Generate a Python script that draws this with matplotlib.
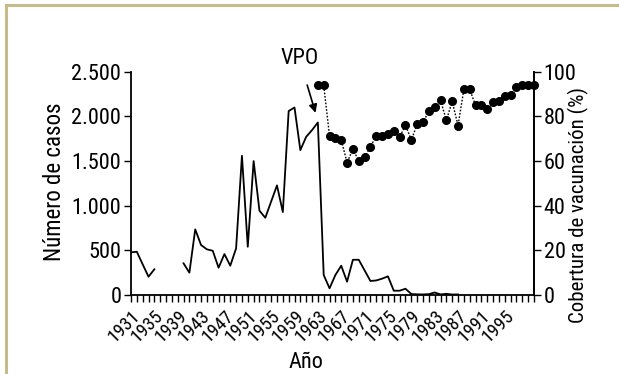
import os
import numpy as np
import matplotlib
matplotlib.use("Agg")
import matplotlib.pyplot as plt
from matplotlib import font_manager as fm
from matplotlib.lines import Line2D

# locate a narrow / condensed regular sans font file
prefs = ['LiberationSansNarrow-Regular', 'RobotoCondensed-Regular', 'DejaVuSansCondensed.',
         'NotoSans-Condensed.', 'NotoSans-CondensedRegular', 'OpenSans_Condensed-Regular',
         'OpenSansCondensed-Regular']
font_path = None
files = [f.fname for f in fm.fontManager.ttflist]
for p in prefs:
    for fn in files:
        if p in os.path.basename(fn):
            font_path = fn
            break
    if font_path:
        break
if font_path is None:
    for fn in files:
        b = os.path.basename(fn)
        if ('Condensed' in b or 'Narrow' in b) and not any(k in b for k in ['Bold', 'Italic', 'Oblique', 'Light', 'Thin', 'Medium', 'Black', 'Semi', 'Extra']):
            font_path = fn
            break

def FP(size):
    if font_path:
        return fm.FontProperties(fname=font_path, size=size)
    return fm.FontProperties(family=['Roboto', 'DejaVu Sans'], size=size)

years_cases = list(range(1931, 1988))
cases = [475, 482, 341, 202, 285, np.nan, np.nan, np.nan, np.nan,
         352, 247, 733, 557, 509, 493, 303, 456, 325, 520,
         1558, 538, 1499, 942, 863, 1045, 1226, 927, 2060, 2100,
         1622, 1771, 1846, 1932, 221, 72, 221, 325, 146, 392,
         392, 273, 154, 160, 180, 206, 45, 45, 67, 8,
         4, 3, 6, 25, 3, 10, 2, 3]

years_cov = list(range(1963, 2001))
coverage = [94.0, 94.0, 71.2, 70.4, 69.4, 59.3, 65.3, 60.1, 61.6, 66.4,
            71.2, 71.2, 72.2, 73.5, 70.6, 76.1, 69.4, 76.4, 77.3, 82.4,
            84.3, 87.3, 78.2, 86.7, 75.9, 92.1, 92.1, 84.9, 85.1, 83.1,
            86.4, 86.8, 89.2, 89.5, 93.0, 94.0, 94.0, 94.0]

label_years = list(range(1931, 1999, 4))
left_ticks = [0, 500, 1000, 1500, 2000, 2500]
left_ticklabels = ['0', '500', '1.000', '1.500', '2.000', '2.500']
right_ticks = [0, 20, 40, 60, 80, 100]

fig = plt.figure(figsize=(6.19, 3.74), dpi=100)
ax = fig.add_axes([0.2116, 0.212, 0.651, 0.596])

# decorative frame (top and left)
fig.add_artist(Line2D([0.010, 1.0], [0.986, 0.986], color='#c8bb8a', lw=2.2, transform=fig.transFigure))
fig.add_artist(Line2D([0.010, 0.010], [0.0, 0.986], color='#c8bb8a', lw=2.2, transform=fig.transFigure))

ax.plot(years_cases, cases, color='black', lw=1.3, zorder=3)
ax.set_xlim(1931, 2000)
ax.set_ylim(0, 2500)
ax.set_yticks(left_ticks)
ax.set_yticklabels(left_ticklabels, fontproperties=FP(16))
ax.set_xticks(label_years)
ax.set_xticklabels([str(y) for y in label_years], rotation=45, ha='right',
                   rotation_mode='anchor', fontproperties=FP(13.5))
ax.set_xticks(list(range(1931, 2001)), minor=True)
ax.tick_params(axis='x', which='both', length=5, width=1, direction='out', pad=4)
ax.tick_params(axis='y', length=5, width=1, pad=2)
ax.spines['top'].set_visible(False)
for s in ['left', 'bottom', 'right']:
    ax.spines[s].set_linewidth(1.3)

ax2 = ax.twinx()
ax2.plot(years_cov, coverage, color='black', lw=1.0, ls=(0, (1.2, 1.2)),
         marker='o', markersize=5.5, markerfacecolor='black', markeredgecolor='black',
         clip_on=False, zorder=4)
ax2.set_ylim(0, 100)
ax2.set_yticks(right_ticks)
ax2.set_yticklabels([str(v) for v in right_ticks], fontproperties=FP(16))
ax2.tick_params(axis='y', length=5, width=1, pad=2)
ax2.spines['top'].set_visible(False)
ax2.spines['right'].set_linewidth(1.3)
ax2.spines['left'].set_visible(False)
ax2.spines['bottom'].set_visible(False)

# axis titles
fig.text(55 / 619, 1 - 182 / 374, 'Número de casos', rotation=90, ha='center', va='center',
         fontproperties=FP(16.5))
fig.text(578 / 619, 1 - 205 / 374, 'Cobertura de vacunación (%)', rotation=90, ha='center',
         va='center', fontproperties=FP(15))
fig.text(306 / 619, 1 - 362 / 374, 'Año', ha='center', va='center', fontproperties=FP(16))

ax.annotate('VPO', xy=(1962.6, 2040), xytext=(1959.8, 2650),
            ha='center', va='center', fontproperties=FP(16), annotation_clip=False,
            arrowprops=dict(arrowstyle='-|>', color='black', lw=1.2,
                            shrinkA=10, shrinkB=0, mutation_scale=12))

fig.savefig('out.png', dpi=100)
